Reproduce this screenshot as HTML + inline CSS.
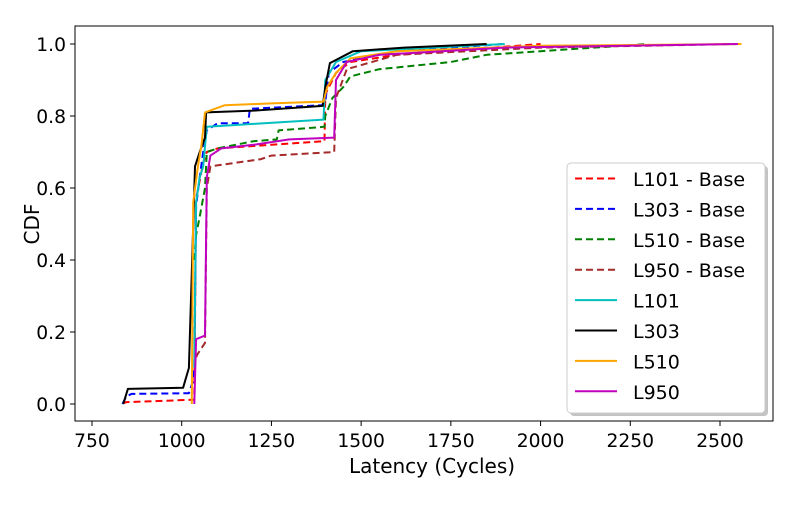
<!DOCTYPE html>
<html><head><meta charset="utf-8"><style>
body{margin:0;background:#fff}
svg text{font-family:"DejaVu Sans","Liberation Sans",sans-serif;fill:#000}
</style></head><body>
<svg id="c" width="800" height="500">
<rect x="75" y="26" width="698" height="395" fill="none" stroke="#000" stroke-width="1"/>
<g id="grid"></g><g id="series"></g><g id="legend"></g>
<text x="432" y="473" text-anchor="middle" font-size="20">Latency (Cycles)</text>
<text transform="translate(39,224) rotate(-90)" text-anchor="middle" font-size="20">CDF</text>
</svg>
<script>
const xTicks=[750,1000,1250,1500,1750,2000,2250,2500];
const yTicks=[0.0,0.2,0.4,0.6,0.8,1.0];
const names=["L101 - Base","L303 - Base","L510 - Base","L950 - Base","L101","L303","L510","L950"];
const colors=["#ff0000","#0000ff","#008000","#a52a2a","#00bfbf","#000000","#ffa500","#bf00bf"];
const dashed=[true,true,true,true,false,false,false,false];
const sL101Base=[[840,0],[840,0.005],[1035,0.012],[1040,0.57],[1050,0.62],[1060,0.67],[1070,0.70],[1100,0.71],[1250,0.72],[1398,0.73],[1400,0.86],[1430,0.92],[1470,0.95],[1600,0.97],[1800,0.985],[2000,1.0]];
const sL303Base=[[835,0],[845,0.02],[860,0.028],[1020,0.03],[1030,0.06],[1035,0.1],[1040,0.55],[1050,0.63],[1060,0.7],[1070,0.76],[1100,0.78],[1185,0.78],[1190,0.82],[1390,0.83],[1400,0.84],[1410,0.92],[1450,0.95],[1600,0.98],[1900,1.0]];
const sL510Base=[[1035,0.4],[1040,0.47],[1050,0.52],[1065,0.6],[1070,0.70],[1100,0.71],[1200,0.73],[1265,0.735],[1270,0.76],[1398,0.77],[1400,0.8],[1420,0.85],[1450,0.88],[1470,0.91],[1550,0.93],[1750,0.95],[1850,0.97],[2000,0.98],[2300,1.0]];
const sL950Base=[[1040,0.13],[1045,0.14],[1065,0.17],[1070,0.6],[1080,0.66],[1150,0.67],[1220,0.68],[1250,0.69],[1425,0.70],[1430,0.85],[1460,0.93],[1600,0.97],[2000,0.99],[2550,1.0]];
const sL101=[[1035,0.1],[1040,0.56],[1050,0.63],[1060,0.66],[1070,0.77],[1150,0.775],[1395,0.79],[1400,0.9],[1430,0.95],[1500,0.98],[1900,1.0]];
const sL303=[[837,0],[850,0.042],[1004,0.045],[1010,0.066],[1020,0.1],[1037,0.66],[1050,0.7],[1065,0.74],[1068,0.81],[1200,0.815],[1393,0.828],[1400,0.88],[1413,0.947],[1477,0.98],[1620,0.99],[1850,1.0]];
const sL510=[[1028,0.0],[1032,0.56],[1045,0.66],[1055,0.72],[1065,0.81],[1120,0.83],[1250,0.835],[1395,0.84],[1405,0.88],[1430,0.92],[1470,0.96],[1600,0.98],[2000,0.995],[2560,1.0]];
const sL950=[[1035,0.0],[1040,0.18],[1065,0.19],[1070,0.63],[1080,0.69],[1110,0.71],[1200,0.72],[1300,0.735],[1425,0.74],[1430,0.9],[1460,0.95],[1550,0.97],[1900,0.99],[2550,1.0]];
const allSeries=[sL101Base,sL303Base,sL510Base,sL950Base,sL101,sL303,sL510,sL950];
const NS="http://www.w3.org/2000/svg";
const X=v=>92+(v-750)*(628/1750);
const Y=c=>404-c*360;
function mk(t,a,p){const e=document.createElementNS(NS,t);for(const k in a)e.setAttribute(k,a[k]);p.appendChild(e);return e;}
const g=document.getElementById('grid');
xTicks.forEach(v=>{
 const l=mk('line',{x1:X(v),x2:X(v),y1:421,y2:426,stroke:'#000'},g);
 
 
 const t=mk('text',{x:X(v),y:447,'text-anchor':'middle','font-size':18.7},g);t.textContent=v;
 
 
});
yTicks.forEach(v=>{
 const l=mk('line',{x1:70,x2:75,y1:Y(v),y2:Y(v),stroke:'#000'},g);
 
 
 const t=mk('text',{x:66,y:Y(v)+7,'text-anchor':'end','font-size':18.7},g);t.textContent=v.toFixed(1);
 
 
});
const s=document.getElementById('series');
allSeries.forEach((pts,i)=>{
 let d='';
 pts.forEach((p,j)=>{d+=(j?'L':'M')+X(p[0]).toFixed(1)+','+Y(p[1]).toFixed(1);});
 const a={d:d,fill:'none',stroke:colors[i],'stroke-width':2,'stroke-linejoin':'round'};
 if(dashed[i])a['stroke-dasharray']='7,4';
 const e=mk('path',a,s);
 
 
});
const lg=document.getElementById('legend');
mk('rect',{x:570,y:166,width:198,height:250,rx:4,fill:'#888',opacity:0.5},lg);
const box=mk('rect',{x:567,y:163,width:198,height:250,rx:4,fill:'#fff',stroke:'#ccc'},lg);


names.forEach((n,i)=>{
 const y=178.5+i*30.4;
 const a={x1:575,x2:617,y1:y,y2:y,stroke:colors[i],'stroke-width':2};
 if(dashed[i])a['stroke-dasharray']='7,4';
 const l=mk('line',a,lg);
 
 
 const t=mk('text',{x:633,y:y+7.5,'font-size':19},lg);t.textContent=n;
 
 
});
</script>
</body></html>
